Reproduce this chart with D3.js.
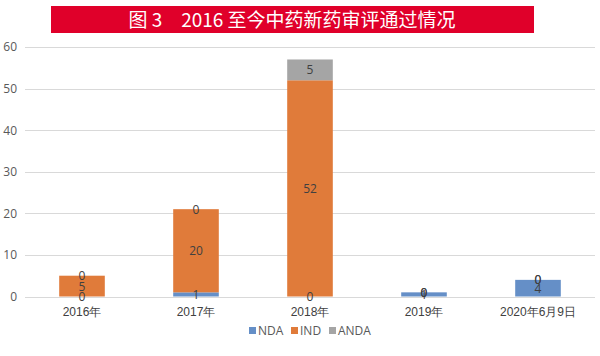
<!DOCTYPE html>
<html><head><meta charset="utf-8">
<script src="https://cdn.jsdelivr.net/npm/d3@7/dist/d3.min.js"></script>
<style>body{margin:0;background:#fff;}svg{display:block;font-family:"Noto Sans CJK SC","Noto Sans",sans-serif;}</style>
</head><body>
<svg id="c" width="600" height="356"></svg>
<script>
const categories = ["2016年","2017年","2018年","2019年","2020年6月9日"];
const seriesNames = ["NDA","IND","ANDA"];
const NDA = [0,1,0,1,4];
const IND = [5,20,52,0,0];
const ANDA = [0,0,5,0,0];
const yTicks = [0,10,20,30,40,50,60];
const colors = ["#658fc7","#e07b3a","#a5a5a5"];
const title = "图 3　2016 至今中药新药审评通过情况";

const svg = d3.select("#c");
// title banner
svg.append("rect").attr("x",51).attr("y",6).attr("width",483).attr("height",27).attr("fill","#e0002a");
svg.append("text").attr("x",292).attr("y",26.5).attr("text-anchor","middle")
  .attr("fill","#fff").attr("font-size",19).text(title);

const x = d3.scaleBand().domain(categories).range([25,595]).paddingInner(0.6).paddingOuter(0.3);
const y = d3.scaleLinear().domain([0,60]).range([296.5,47]);

// grid
svg.append("g").selectAll("line").data(yTicks).join("line")
  .attr("x1",25).attr("x2",595).attr("y1",d=>Math.round(y(d))+0.5).attr("y2",d=>Math.round(y(d))+0.5)
  .attr("stroke","#d9d9d9").attr("stroke-width",1);

const yAxis = d3.axisLeft(y).tickValues(yTicks).tickSize(0).tickPadding(0);
const gy = svg.append("g").attr("transform","translate(17,0)").call(yAxis);
gy.select(".domain").remove();
gy.selectAll("text").attr("font-size",12).attr("fill","#595959").attr("font-family","'Open Sans','Noto Sans',sans-serif");

const data = categories.map((c,i)=>({cat:c, NDA:NDA[i], IND:IND[i], ANDA:ANDA[i]}));
const stack = d3.stack().keys(seriesNames)(data);

const gBars = svg.append("g");
stack.forEach((s,si)=>{
  gBars.append("g").attr("fill",colors[si]).selectAll("rect").data(s).join("rect")
    .attr("x",d=>x(d.data.cat)).attr("width",x.bandwidth())
    .attr("y",d=>y(d[1])).attr("height",d=>y(d[0])-y(d[1]));
});
// labels
stack.forEach((s,si)=>{
  svg.append("g").selectAll("text").data(s).join("text")
    .attr("x",d=>x(d.data.cat)+x.bandwidth()/2)
    .attr("y",d=>(y(d[0])+y(d[1]))/2+4.5)
    .attr("text-anchor","middle").attr("font-size",12).attr("fill","#404040")
    .attr("font-family","'Open Sans','Noto Sans',sans-serif")
    .text(d=>d.data[s.key]);
});

// x axis
const xAxis = d3.axisBottom(x).tickSize(0).tickPadding(0);
const gx = svg.append("g").attr("transform","translate(0,306)").call(xAxis);
gx.select(".domain").remove();
gx.selectAll("text").attr("font-size",12).attr("fill","#404040").attr("dy","0.85em");

// legend
const legX = [249,291,329];
const lg = svg.append("g");
seriesNames.forEach((n,i)=>{
  lg.append("rect").attr("x",legX[i]).attr("y",327).attr("width",7).attr("height",7).attr("fill",colors[i]);
  lg.append("text").attr("x",legX[i]+9).attr("y",335).attr("font-size",12).attr("fill","#595959")
    .attr("font-family","'Open Sans','Noto Sans',sans-serif").text(n);
});
</script>
</body></html>
